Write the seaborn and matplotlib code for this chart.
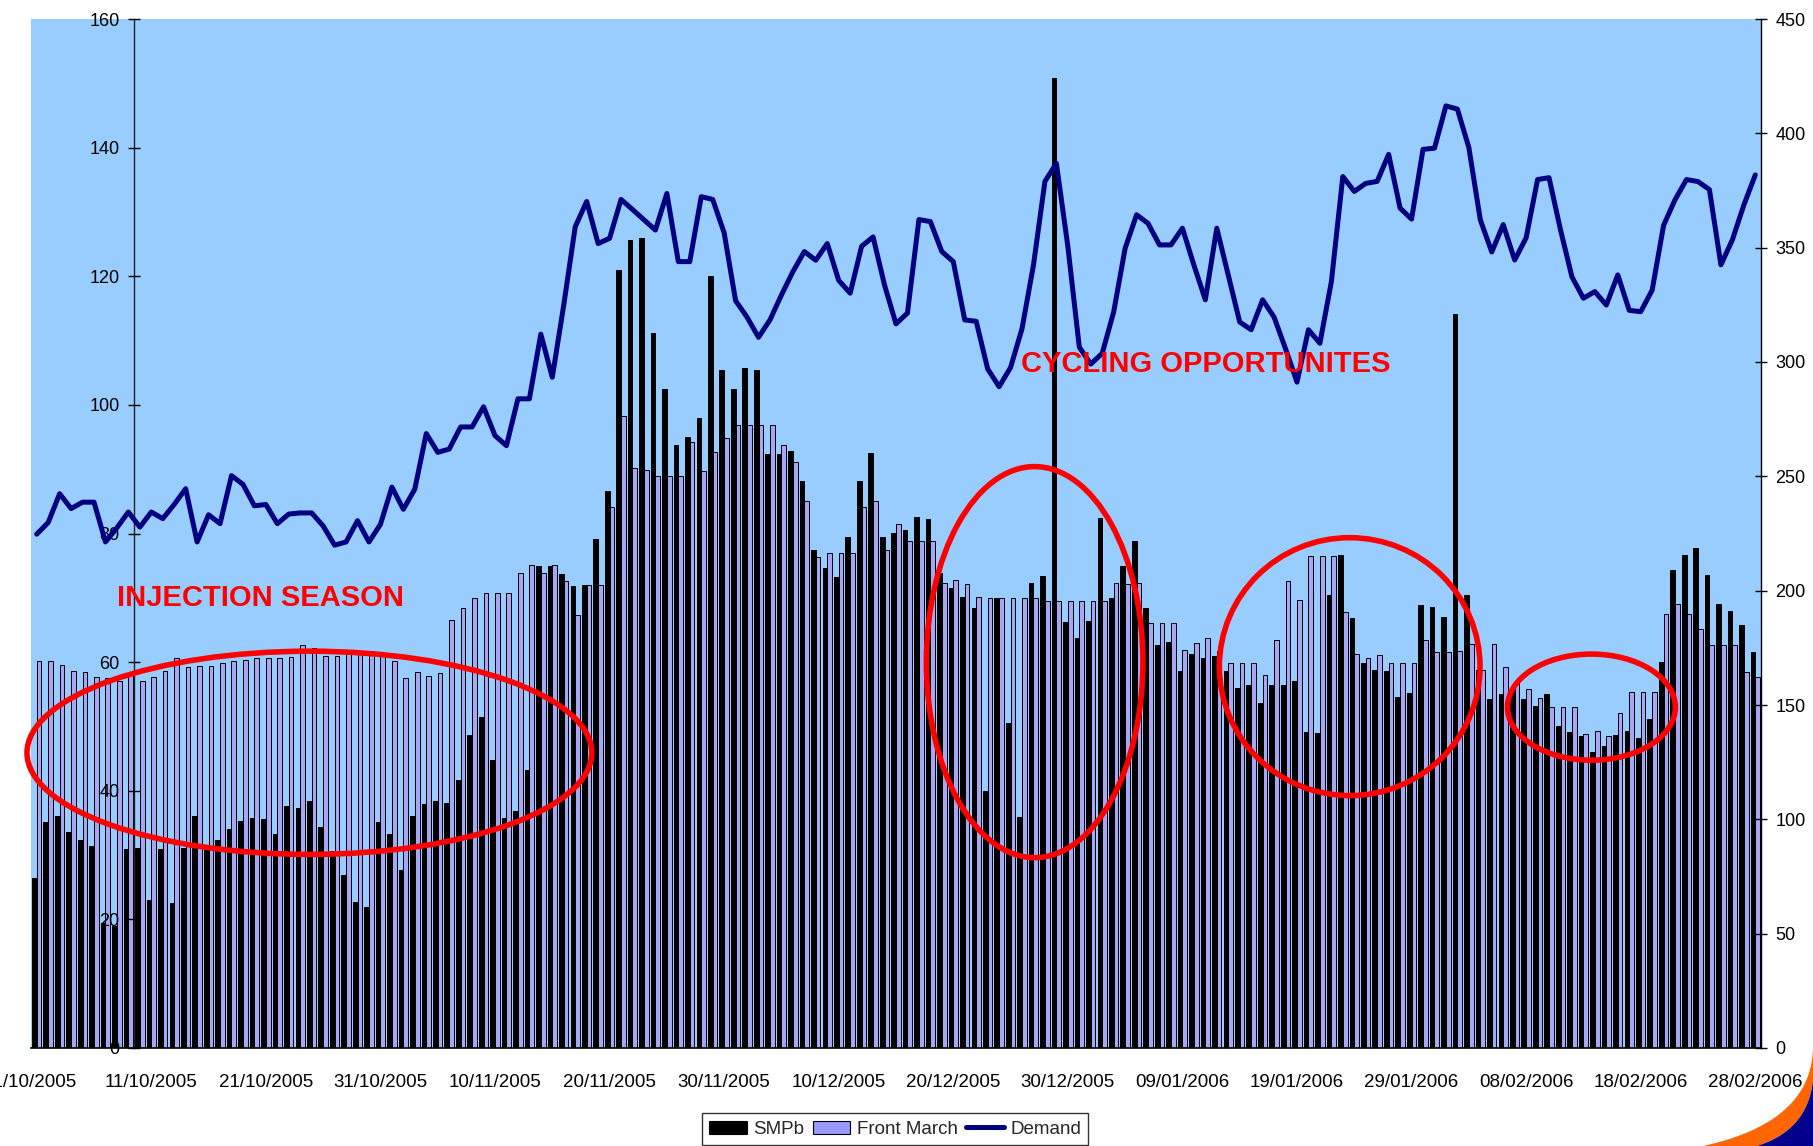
import matplotlib
matplotlib.use("Agg")
import matplotlib.pyplot as plt
import matplotlib.transforms as mtransforms
from matplotlib.patches import Ellipse, Patch, Polygon
from matplotlib.lines import Line2D
import seaborn as sns
import pandas as pd
import numpy as np

# ---------------- data (daily, 01/10/2005 .. 28/02/2006) ----------------
smpb = [26.4, 35.1, 36.1, 33.6, 32.4, 31.4, 19.5, 19.0, 30.9, 31.1,
        23.0, 30.9, 22.5, 31.1, 36.1, 30.8, 32.4, 34.1, 35.3, 35.7,
        35.6, 33.2, 37.7, 37.3, 38.4, 34.3, 30.7, 26.9, 22.7, 22.0,
        35.1, 33.3, 27.6, 36.0, 37.9, 38.4, 38.1, 41.6, 48.6, 51.5,
        44.8, 35.7, 36.9, 43.3, 74.9, 74.9, 73.7, 71.8, 72.0, 79.1,
        86.6, 121.0, 125.6, 125.9, 111.1, 102.5, 93.7, 95.0, 98.0, 120.0,
        105.5, 102.4, 105.7, 105.4, 92.3, 92.3, 92.9, 88.1, 77.5, 74.6,
        73.2, 79.4, 88.1, 92.5, 79.4, 80.1, 80.6, 82.5, 82.2, 73.9,
        71.6, 70.2, 68.4, 40.0, 69.9, 50.5, 35.9, 72.3, 73.4, 150.9,
        66.3, 63.8, 66.4, 82.4, 70.0, 74.9, 78.9, 68.4, 62.7, 63.1,
        58.6, 61.2, 60.6, 60.9, 58.6, 56.0, 56.5, 53.6, 56.5, 56.5,
        57.0, 49.2, 49.0, 70.4, 76.7, 66.9, 59.8, 58.8, 58.6, 54.6,
        55.2, 68.9, 68.5, 67.0, 114.2, 70.4, 58.7, 54.2, 55.0, 56.0,
        54.2, 53.2, 55.1, 50.1, 49.2, 48.5, 46.1, 46.9, 48.7, 49.3,
        48.2, 51.1, 60.0, 74.3, 76.6, 77.7, 73.5, 69.0, 68.0, 65.7,
        61.5]

front_march = [60.1, 60.1, 59.6, 58.6, 58.4, 57.7, 57.5, 57.0, 58.0, 57.0,
               57.7, 58.6, 60.6, 59.3, 59.4, 59.4, 59.9, 60.1, 60.4, 60.6,
               60.7, 60.7, 60.8, 62.7, 62.2, 60.9, 60.9, 61.8, 61.8, 61.8,
               61.4, 60.1, 57.6, 58.4, 57.9, 58.3, 66.6, 68.4, 69.9, 70.8,
               70.8, 70.8, 73.9, 75.1, 73.9, 75.1, 72.6, 67.3, 72.0, 72.0,
               84.1, 98.3, 90.2, 89.8, 89.0, 89.0, 89.0, 94.2, 89.7, 92.6,
               94.9, 96.8, 96.8, 96.8, 96.8, 93.7, 91.1, 85.0, 76.3, 77.0,
               77.0, 77.0, 84.1, 85.0, 77.5, 81.4, 78.8, 78.8, 78.8, 72.3,
               72.8, 72.1, 70.2, 69.9, 69.9, 69.9, 69.9, 69.9, 69.5, 69.5,
               69.5, 69.5, 69.5, 69.5, 72.3, 72.1, 72.3, 66.1, 66.1, 66.1,
               61.9, 63.0, 63.8, 61.7, 59.8, 59.8, 59.8, 58.0, 63.5, 72.6,
               69.7, 76.5, 76.5, 76.5, 67.8, 61.2, 60.6, 61.1, 59.8, 59.8,
               59.8, 63.4, 61.5, 61.5, 61.8, 62.8, 58.8, 62.8, 59.2, 56.8,
               55.8, 54.4, 53.0, 53.0, 53.0, 48.8, 49.3, 48.5, 52.1, 55.3,
               55.3, 55.3, 67.5, 69.1, 67.5, 65.2, 62.6, 62.6, 62.6, 58.4,
               57.7]

demand = [224.7, 229.8, 242.4, 235.9, 238.7, 238.7, 221.3, 227.5, 234.4, 227.8,
          234.4, 231.5, 237.7, 244.6, 221.3, 233.2, 229.3, 250.3, 246.5, 237.1,
          237.7, 229.3, 233.5, 234.0, 234.0, 228.3, 219.9, 221.3, 230.6, 221.3,
          229.0, 245.3, 235.6, 244.4, 268.7, 260.5, 261.9, 271.6, 271.6, 280.4,
          267.8, 263.4, 283.9, 283.9, 312.2, 293.3, 324.9, 359.1, 370.2, 351.8,
          354.1, 371.1, 366.7, 362.2, 357.7, 373.7, 343.9, 343.9, 372.3, 371.1,
          356.5, 326.8, 319.6, 310.8, 318.4, 329.3, 339.5, 348.3, 344.5, 351.8,
          335.7, 330.1, 350.6, 354.7, 333.6, 316.7, 321.4, 362.3, 361.4, 348.3,
          343.9, 318.4, 317.8, 297.0, 289.2, 297.6, 314.6, 342.4, 379.0, 386.9,
          350.5, 306.5, 299.1, 303.8, 321.9, 349.7, 364.4, 360.6, 351.2, 351.2,
          358.5, 342.4, 327.2, 358.5, 338.0, 317.5, 314.1, 327.2, 319.6, 305.8,
          291.2, 314.1, 308.2, 335.1, 381.1, 374.6, 378.1, 379.0, 390.8, 367.3,
          362.5, 393.0, 393.5, 412.0, 410.6, 393.8, 362.2, 348.1, 360.1, 344.6,
          354.3, 379.8, 380.6, 357.8, 337.2, 327.9, 330.8, 324.9, 338.1, 322.6,
          322.0, 331.4, 359.8, 371.0, 379.8, 378.9, 375.4, 342.5, 353.4, 368.6,
          381.8]

tick_labels = ["01/10/2005", "11/10/2005", "21/10/2005", "31/10/2005",
               "10/11/2005", "20/11/2005", "30/11/2005", "10/12/2005",
               "20/12/2005", "30/12/2005", "09/01/2006", "19/01/2006",
               "29/01/2006", "08/02/2006", "18/02/2006", "28/02/2006"]

dates = pd.date_range("2005-10-01", "2006-02-28", freq="D").strftime("%d/%m/%Y")
n = len(dates)

df = pd.DataFrame({
    "date": list(dates) * 2,
    "series": ["SMPb"] * n + ["Front March"] * n,
    "value": smpb + front_march,
})

# ---------------- style ----------------
sns.set_style("white")
plt.rcParams["font.family"] = ["Liberation Sans", "DejaVu Sans"]

BG = "#99CCFF"
BLUE_BAR = "#9999FF"
NAVY = "#000080"

W, H = 1813, 1146
fig = plt.figure(figsize=(W / 100, H / 100), dpi=100)
fig.patch.set_facecolor("white")
ax = fig.add_axes([31 / W, 1 - 1048 / H, (1761 - 31) / W, (1048 - 19) / H])
ax.set_facecolor(BG)

sns.barplot(data=df, x="date", y="value", hue="series",
            hue_order=["SMPb", "Front March"],
            palette={"SMPb": "black", "Front March": BLUE_BAR},
            width=0.82, dodge=True, gap=0, errorbar=None,
            edgecolor="black", linewidth=0.7, legend=False, ax=ax)

ax2 = ax.twinx()
sns.lineplot(x=np.arange(n), y=demand, ax=ax2, color=NAVY, linewidth=3.6,
             legend=False)

# ---------------- axes ----------------
ax.set_xlim(-0.5, n - 0.5)
ax.set_ylim(0, 160)
ax2.set_ylim(0, 450)
ax.set_xlabel("")
ax.set_ylabel("")
ax2.set_ylabel("")
ax2.set_xlabel("")
ax.set_axisbelow(False)

ax.set_yticks(np.arange(0, 161, 20))
ax2.set_yticks(np.arange(0, 451, 50))
ax.set_xticks(np.arange(0, n, 10))
ax.set_xticklabels(tick_labels)
ax.set_xticks(np.arange(0, n, 10) - 0.5, minor=True)

ax.tick_params(axis="x", which="major", length=0, pad=19, labelsize=13.5,
               colors="black")
ax.tick_params(axis="x", which="minor", length=10, width=1, direction="inout",
               color="black")
ax.tick_params(axis="y", which="major", length=9, width=1, direction="inout",
               pad=6, labelsize=13, colors="black")
ax2.tick_params(axis="y", which="major", length=9, width=1, direction="inout",
                pad=6, labelsize=13, colors="black")

# first date label sits slightly further left (cropped in the original)
first = ax.get_xticklabels()[0]
first.set_transform(first.get_transform() +
                    mtransforms.ScaledTranslation(-7 / 100, 0, fig.dpi_scale_trans))

for s in ["top", "right"]:
    ax.spines[s].set_visible(False)
for s in ["top", "left", "bottom"]:
    ax2.spines[s].set_visible(False)
ax.spines["left"].set_position(("data", 8.5))
ax.spines["left"].set_color("#222222")
ax.spines["left"].set_linewidth(1)
ax.spines["bottom"].set_color("black")
ax.spines["bottom"].set_linewidth(1.2)
ax2.spines["right"].set_color("black")
ax2.spines["right"].set_linewidth(1)
ax.grid(False)
ax2.grid(False)

# ---------------- annotations ----------------
ellipses = [((23.8, 45.9), 49.3, 31.6),
            ((87.1, 60.0), 18.9, 60.8),
            ((114.6, 59.3), 22.75, 40.1),
            ((135.7, 53.0), 14.65, 16.5)]
for (cx, cy), ew, eh in ellipses:
    e = Ellipse((cx, cy), ew, eh, transform=ax.transData, fill=False,
                edgecolor="#FF0000", linewidth=4, zorder=10, clip_on=False)
    ax2.add_patch(e)

ax2.text(7.0, 68.7, "INJECTION SEASON", transform=ax.transData,
         color="#FF0000", fontsize=21, fontweight="bold", ha="left",
         va="baseline", zorder=11)
ax2.text(85.9, 105.1, "CYCLING OPPORTUNITES", transform=ax.transData,
         color="#FF0000", fontsize=21, fontweight="bold", ha="left",
         va="baseline", zorder=11)

# ---------------- legend ----------------
handles = [Patch(facecolor="black", edgecolor="black", linewidth=0.8),
           Patch(facecolor=BLUE_BAR, edgecolor="black", linewidth=0.8),
           Line2D([], [], color=NAVY, linewidth=3.6)]
leg = fig.legend(handles, ["SMPb", "Front March", "Demand"], ncol=3,
                 loc="upper center", bbox_to_anchor=(895 / W, 1 - 1113 / H),
                 frameon=True, fancybox=False, edgecolor="black",
                 fontsize=13.5, handlelength=2.0, handleheight=0.75,
                 handletextpad=0.35, columnspacing=0.45, borderpad=0.4,
                 borderaxespad=0)
leg.get_frame().set_linewidth(1)

# ---------------- corner decoration (slide swoosh) ----------------
def bezier(p0, p1, p2, k=30):
    t = np.linspace(0, 1, k)[:, None]
    p0, p1, p2 = map(np.asarray, (p0, p1, p2))
    return (1 - t) ** 2 * p0 + 2 * (1 - t) * t * p1 + t ** 2 * p2

def to_fig(pts):
    pts = np.asarray(pts, dtype=float)
    return np.column_stack([pts[:, 0] / W, 1 - pts[:, 1] / H])

orange_top = bezier((1813, 1046), (1813, 1122), (1703, 1146))
navy_top = bezier((1813, 1080), (1808, 1130), (1757, 1146))
orange_poly = np.vstack([orange_top, navy_top[::-1]])
navy_poly = np.vstack([navy_top, [(1813, 1146)]])

fig.add_artist(Polygon(to_fig(orange_poly), closed=True, facecolor="#FF6600",
                       edgecolor="none", transform=fig.transFigure))
fig.add_artist(Polygon(to_fig(navy_poly), closed=True, facecolor="#00008B",
                       edgecolor="none", transform=fig.transFigure))

fig.savefig("out.png", dpi=100, facecolor="white")
